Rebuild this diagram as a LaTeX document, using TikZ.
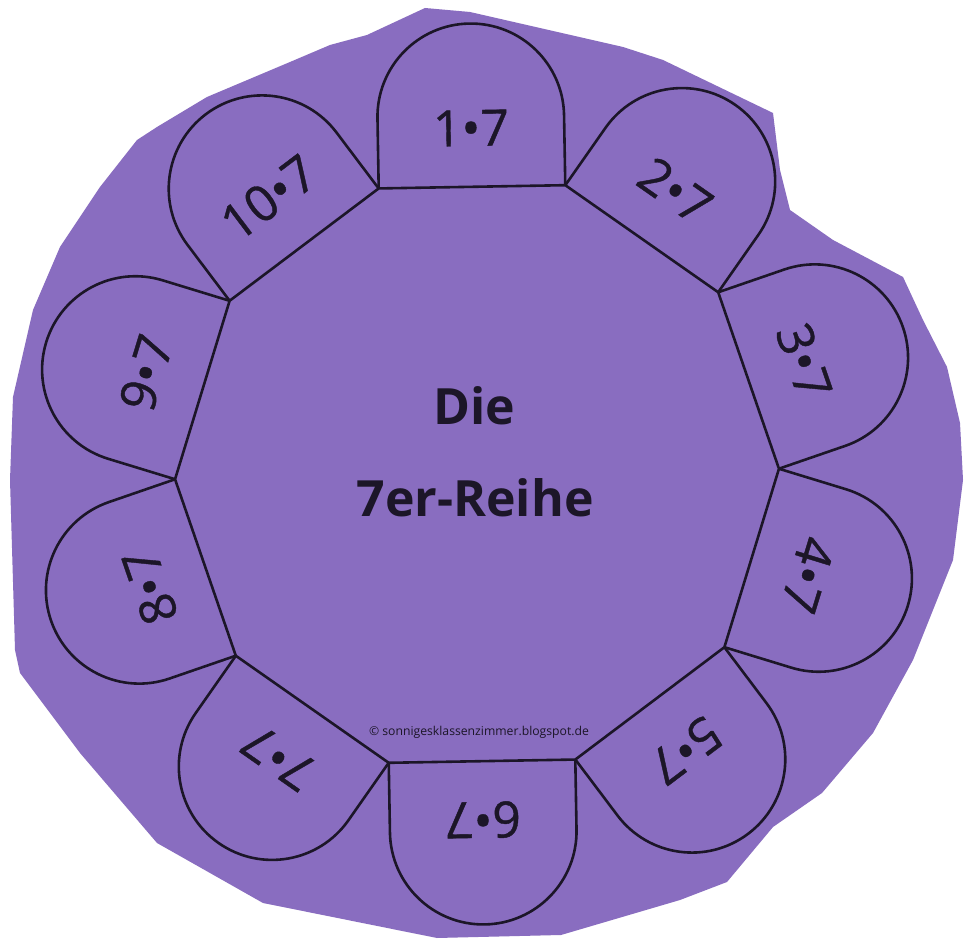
\documentclass[tikz,border=0pt]{standalone}
\usepackage{fontspec}
\setmainfont{Open Sans}
\newfontfamily\tabfont[FakeBold=0.8]{Open Sans}
\usetikzlibrary{calc}
\definecolor{paper}{RGB}{137,109,192}
\definecolor{ink}{RGB}{28,22,40}
\tikzset{
  tabline/.style={draw=ink, line width=2.6pt, line join=round},
  lbl/.style={text=ink, font=\tabfont\fontsize{50}{60}\selectfont, inner sep=0pt},
  title/.style={text=ink, font=\bfseries\fontsize{50}{60}\selectfont, inner sep=0pt, anchor=base},
}
\begin{document}
\begin{tikzpicture}[x=1pt,y=1pt]
\useasboundingbox (0,0) rectangle (971,942);
\fill[white] (0,0) rectangle (971,942);
% paper cut-out
\fill[paper] (425,934) -- (470,930) -- (623,895) -- (663,882) -- (773,829) -- (780,772)
  -- (790,732) -- (833,702) -- (903,665) -- (923,622) -- (947,575) -- (960,519)
  -- (963,462) -- (953,382) -- (913,282) -- (873,209) -- (822,149) -- (773,115)
  -- (727,60) -- (680,42) -- (561,7) -- (437,4) -- (263,39) -- (157,99)
  -- (80,189) -- (20,269) -- (15,292) -- (10,462) -- (13,545) -- (33,632)
  -- (60,695) -- (100,755) -- (137,802) -- (157,815) -- (207,845) -- (290,880)
  -- (330,897) -- (367,907) -- cycle;
\coordinate (C) at (477,468);
% tabs
\foreach \k/\n in {0/1,1/2,2/3,3/4,4/5,5/6,6/7,7/8,8/9,9/10}{
  \begin{scope}[shift={(C)}, rotate={1-36*\k}]
    \draw[tabline] (-93.3,287.2) -- (-93.3,357.2)
      arc[start angle=180, end angle=0, radius=93.3] -- (93.3,287.2);
    \node[lbl, transform shape] (t\n) at (0,346) {\n•7};
  \end{scope}
}
% decagon
\foreach \j in {0,...,9}{
  \coordinate (v\j) at ($(C)+({1+36*\j}:302)$);
}
\draw[tabline] (v0) -- (v1) -- (v2) -- (v3) -- (v4) -- (v5) -- (v6) -- (v7) -- (v8) -- (v9) -- cycle;
% centre text
\node[title] (die) at (474,517) {Die};
\node[title] (reihe) at (475,425) {7er-Reihe};
\node[text=ink, font=\fontsize{12.2}{14}\selectfont, inner sep=0pt, anchor=base] (copy) at (479,206) {© sonnigesklassenzimmer.blogspot.de};
\end{tikzpicture}
\end{document}
